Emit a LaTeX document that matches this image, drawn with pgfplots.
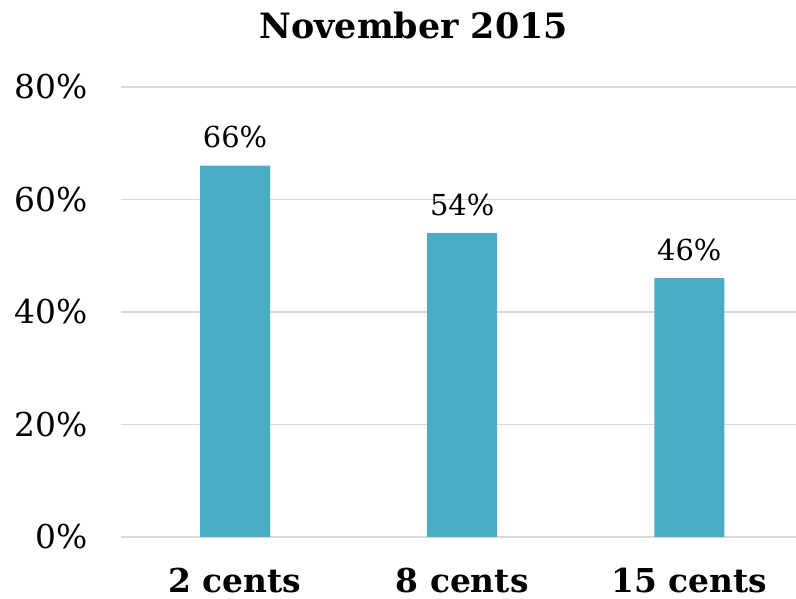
\documentclass[border=0pt]{standalone}
\usepackage{pgfplots}
\pgfplotsset{compat=1.18}
\usepackage{fontspec}
\setmainfont{DejaVu Serif}
\definecolor{barcol}{HTML}{4BACC6}
\definecolor{gridcol}{HTML}{D9D9D9}
\begin{document}
\begin{tikzpicture}
\useasboundingbox (-121.5bp,-62bp) rectangle (674.5bp,537bp);
\begin{axis}[
  /pgf/number format/assume math mode=true,
  at={(0,0)}, anchor=south west,
  scale only axis, width=674.5bp, height=450bp,
  xmin=-0.5, xmax=2.47, ymin=0, ymax=80,
  ybar, bar width=70bp,
  axis line style={draw=none},
  major tick length=0pt,
  ymajorgrids, grid style={draw=gridcol, line width=1.6bp},
  ytick={0,20,40,60,80},
  yticklabel={\pgfmathprintnumber{\tick}\%},
  yticklabel style={font=\fontsize{33}{36}\selectfont, anchor=east, inner sep=0pt, xshift=-34bp},
  xtick=data,
  xticklabels={2 cents, 8 cents, 15 cents},
  xticklabel style={font=\fontsize{33}{36}\selectfont\bfseries, anchor=base, inner sep=0pt, yshift=-55bp},
  nodes near coords={\pgfmathprintnumber{\pgfplotspointmeta}\%},
  nodes near coords style={font=\fontsize{29}{32}\selectfont, anchor=base, inner sep=0pt, yshift=18bp, text=black},
  title={November 2015},
  title style={font=\fontsize{35}{38}\selectfont\bfseries, at={(axis description cs:0.5,1)}, anchor=base, inner sep=0pt, yshift=43bp, xshift=-45bp},
]
\addplot[fill=barcol, draw=none] coordinates {(0,66) (1,54) (2,46)};
\end{axis}
\end{tikzpicture}
\end{document}
